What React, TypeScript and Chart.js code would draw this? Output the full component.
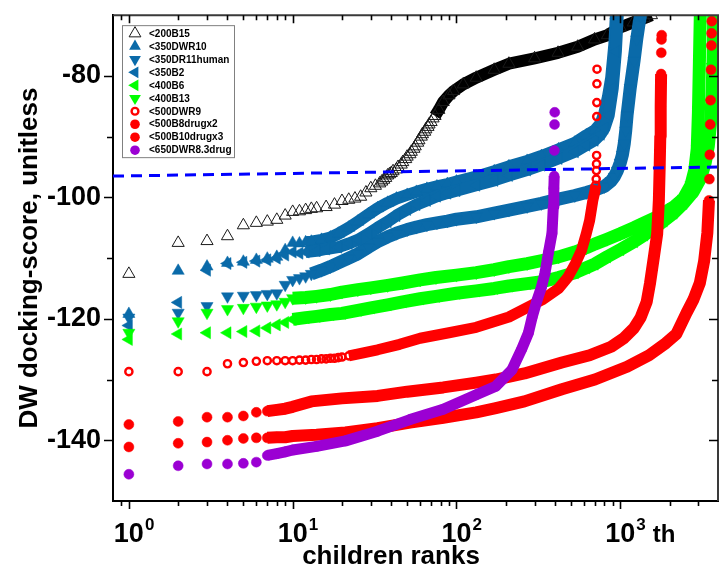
import React, { useEffect, useRef } from 'react';
import { Chart, registerables } from 'chart.js';

Chart.register(...registerables);

const FONT = '"Liberation Sans", Arial, Helvetica, sans-serif';

// ---------- data (rank, docking score) ----------
const b15Ranks = [1,2,3,4,5,6,7,8,9,10,11,12,13,14,16,18,20,22,24,26,28,30,32,34,35,36,37,38,39,40,41,43,44,46,47,49,50,52,53,55,56,58,59,61,62,64,65,67,68,70,72,74,78,83,90,96,110,132,170,209,300,417,550,697,835,1000,1200,1400,1550];
const b15Scores = [-112.6,-107.5,-107.2,-106.4,-104.6,-104.2,-104.0,-103.7,-103.0,-102.4,-102.3,-102.1,-101.9,-101.8,-101.6,-101.2,-100.6,-100.4,-100.2,-99.9,-99.2,-98.5,-98.1,-97.7,-97.4,-97.1,-96.8,-96.4,-96.2,-96.0,-95.7,-95.4,-95.0,-94.6,-94.2,-93.7,-93.3,-92.9,-92.5,-92.0,-91.6,-91.0,-90.6,-90.0,-89.6,-89.2,-88.8,-88.4,-88.0,-87.6,-87.0,-86.6,-85.6,-84.3,-83.2,-82.5,-81.4,-80.3,-79.0,-78.0,-77.1,-76.2,-75.2,-74.0,-73.3,-72.0,-71.2,-70.5,-70.0];

const dwr10Ranks = [1,2,3,4,5,6,7,8,9,10,11,12,13,15,17,19,22,25,29,33,38,43,50,57,66,76,88,100,132,170,209,270,330,420,528,620,697,760,801,840,880,920,940];
const dwr10Scores = [-119.2,-112.1,-111.4,-110.8,-110.6,-110.3,-110.1,-109.8,-108.7,-107.5,-107.6,-107.4,-107.3,-107.0,-106.6,-106.0,-105.0,-104.0,-102.8,-101.8,-100.9,-100.2,-99.6,-99.1,-98.6,-98.2,-97.8,-97.4,-96.6,-95.7,-94.9,-94.0,-93.2,-92.1,-91.0,-89.8,-89.0,-87.8,-86.0,-83.5,-80.3,-74.8,-70.0];

const dr11Ranks = [1,2,3,4,5,6,7,8,9,10,11,12,13,15,17,19,22,25,29,33,38,43,50,57,66,76,88,100,132,170,209,270,330,420,528,620,697,800,880,920,960,1000,1030,1057,1080,1100,1150,1214,1260,1300,1330];
const dr11Scores = [-119.8,-119.0,-117.9,-116.3,-116.2,-116.1,-115.9,-115.8,-114.4,-113.6,-113.3,-113.0,-112.6,-112.0,-111.4,-110.8,-110.0,-109.3,-108.2,-107.3,-106.5,-105.9,-105.3,-104.9,-104.5,-104.2,-103.9,-103.6,-103.2,-102.6,-102.1,-101.5,-101.0,-100.3,-99.7,-99.2,-98.8,-98.2,-97.3,-96.6,-95.6,-94.3,-93.0,-91.2,-89.0,-86.5,-82.0,-77.5,-74.0,-71.5,-70.0];

const b2Ranks = [1,2,3,4,5,6,7,8,9,10,11,12,14,16,19,22,25,29,33,38,43,50,57,66,76,88,100,132,170,209,270,330,420,528,620,697,760,801,850,900,940,965];
const b2Scores = [-121.1,-117.3,-112.0,-110.9,-110.7,-110.5,-110.3,-110.0,-109.5,-109.0,-109.2,-109.0,-108.8,-108.5,-108.2,-107.6,-107.0,-106.0,-105.0,-104.0,-103.0,-102.0,-101.2,-100.5,-99.8,-99.3,-98.9,-98.0,-97.2,-96.4,-95.5,-94.7,-93.6,-92.5,-91.4,-90.6,-89.6,-88.6,-86.5,-82.0,-76.0,-70.0];

const b6Ranks = [1,2,3,4,5,6,7,8,9,10,12,14,17,20,25,30,38,47,60,75,100,132,170,209,270,333,420,528,620,697,830,1000,1214,1400,1600,1840,2115,2430,2800,3100,3300,3450,3550,3620,3680,3720];
const b6Scores = [-123.4,-122.5,-122.3,-122.3,-122.1,-122.0,-121.5,-121.0,-120.6,-120.1,-119.8,-119.6,-119.3,-119.1,-118.6,-118.2,-117.7,-117.2,-116.7,-116.3,-115.8,-115.4,-115.0,-114.6,-114.2,-113.9,-113.2,-112.4,-111.6,-111.0,-109.8,-108.6,-107.3,-106.2,-105.1,-103.9,-102.6,-101.0,-99.0,-96.8,-94.3,-91.5,-88.0,-84.0,-78.0,-70.0];

const b13Ranks = [1,2,3,4,5,6,7,8,9,10,12,14,17,20,25,30,38,47,60,75,100,132,170,209,270,333,420,528,620,697,830,1000,1214,1400,1680,2115,2430,2700,2850,2950,3000,3040,3080];
const b13Scores = [-122.3,-120.4,-119.0,-118.4,-118.2,-118.0,-117.8,-117.6,-117.2,-116.6,-116.5,-116.3,-116.0,-115.6,-115.2,-114.9,-114.5,-114.1,-113.6,-113.2,-112.8,-112.4,-111.9,-111.4,-110.9,-110.4,-109.8,-109.0,-108.3,-107.7,-106.9,-106.0,-105.0,-104.2,-103.2,-101.6,-100.2,-98.0,-95.5,-92.0,-86.0,-78.0,-70.0];

const dwr9Ranks = [1,2,3,4,5,6,7,8,9,10,11,12,13,14,15,16,17,18,19,20,22,24,27,33,45,60,90,132,209,333,420,480,530,580,620,650,680,700,708,713,715,716,717,718,719,720,721];
const dwr9Scores = [-128.7,-128.7,-128.7,-127.4,-127.2,-127.0,-126.9,-126.9,-126.9,-126.9,-126.8,-126.8,-126.7,-126.7,-126.6,-126.6,-126.5,-126.5,-126.4,-126.3,-126.1,-125.9,-125.6,-125.1,-124.2,-123.2,-122.3,-121.4,-119.7,-116.9,-115.0,-113.1,-111.0,-108.7,-106.0,-103.8,-100.5,-99.0,-98.0,-97.0,-95.6,-94.5,-93.1,-86.7,-84.4,-81.3,-78.9];

const b8Ranks = [1,2,3,4,5,6,7,8,9,10,13,20,33,50,83,132,174,260,440,650,880,1050,1214,1330,1450,1520,1600,1680,1720,1740,1755,1765,1775,1780,1785,1790];
const b8Scores = [-137.4,-136.9,-136.2,-136.2,-136.0,-135.4,-135.2,-135.0,-134.8,-134.5,-133.6,-133.1,-132.7,-132.0,-131.3,-130.5,-130.0,-129.0,-127.2,-126.0,-124.6,-123.2,-121.5,-119.8,-117.2,-114.1,-110.0,-106.0,-100.5,-95.0,-90.0,-85.0,-79.7,-76.2,-74.0,-73.3];

const b10Ranks = [1,2,3,4,5,6,7,8,9,10,14,21,33,52,83,132,174,260,440,700,1100,1500,1900,2200,2540,2800,3060,3250,3400,3480,3500,3520,3540,3560,3580,3600,3610,3620];
const b10Scores = [-141.1,-140.5,-140.3,-140.0,-139.7,-139.6,-139.6,-139.5,-139.5,-139.3,-139.1,-138.7,-138.0,-137.1,-136.3,-135.4,-134.7,-133.6,-131.6,-130.0,-127.9,-126.0,-124.0,-122.5,-119.0,-116.8,-114.1,-110.5,-105.9,-100.5,-97.0,-93.0,-88.0,-84.0,-79.0,-75.0,-73.0,-71.0];

const dwr83Ranks = [1,2,3,4,5,6,7,8,9,10,14,21,33,52,83,132,174,218,250,275,290,310,330,347,365,383,390,393,395,396,397,398];
const dwr83Scores = [-145.6,-144.2,-143.9,-143.9,-143.8,-143.6,-142.5,-142.2,-141.9,-141.6,-141.0,-140.1,-138.5,-136.6,-134.9,-132.5,-131.1,-128.4,-125.0,-122.3,-119.7,-117.0,-114.8,-112.5,-109.0,-105.9,-101.6,-98.5,-96.5,-92.3,-88.0,-86.0];

const cutoffX = [0.8, 4000];
const cutoffY = [-96.5, -95.0];

const xMajorTicks = [1, 10, 100, 1000];
const xTickExponents = ['0', '1', '2', '3'];
const xTickSuffix = ['', '', '', 'th'];
const xMinorTicks = [0.9, 2, 3, 4, 5, 6, 7, 8, 9, 20, 30, 40, 50, 60, 70, 80, 90, 200, 300, 400, 500, 600, 700, 800, 900, 2000, 3000];
const yMajorTicks = [-140, -120, -100, -80];
const yMinorTicks = [-130, -110, -90];

// ---------- styles ----------
const BLUE = '#0a6aa9';
const GREEN = '#00ff00';
const RED = '#ff0000';
const PURPLE = '#9b00d3';

const SERIES = [
  { label: '<200B15', ranks: b15Ranks, scores: b15Scores, color: '#000000', shape: 'triangle', rot: 0, r: 7, open: true, pb: '#1a1a1a', pbw: 1, bs: 74, be: 1e9, bw: 12 },
  { label: '<350DWR10', ranks: dwr10Ranks, scores: dwr10Scores, color: BLUE, shape: 'triangle', rot: 0, r: 7, open: false, pb: BLUE, pbw: 0.5, bs: 12, be: 1e9, bw: 12 },
  { label: '<350DR11human', ranks: dr11Ranks, scores: dr11Scores, color: BLUE, shape: 'triangle', rot: 180, r: 7, open: false, pb: BLUE, pbw: 0.5, bs: 13, be: 1e9, bw: 13 },
  { label: '<350B2', ranks: b2Ranks, scores: b2Scores, color: BLUE, shape: 'triangle', rot: 270, r: 7, open: false, pb: BLUE, pbw: 0.5, bs: 12, be: 1e9, bw: 12 },
  { label: '<400B6', ranks: b6Ranks, scores: b6Scores, color: GREEN, shape: 'triangle', rot: 270, r: 7, open: false, pb: GREEN, pbw: 0.5, bs: 10, be: 1e9, bw: 13 },
  { label: '<400B13', ranks: b13Ranks, scores: b13Scores, color: GREEN, shape: 'triangle', rot: 180, r: 7, open: false, pb: GREEN, pbw: 0.5, bs: 10, be: 1e9, bw: 13 },
  { label: '<500DWR9', ranks: dwr9Ranks, scores: dwr9Scores, color: RED, shape: 'circle', rot: 0, r: 3.6, open: true, pb: RED, pbw: 2.4, bs: 22, be: 708, bw: 11 },
  { label: '<500B8drugx2', ranks: b8Ranks, scores: b8Scores, color: RED, shape: 'circle', rot: 0, r: 5, open: false, pb: RED, pbw: 0.5, bs: 7, be: 1775, bw: 12 },
  { label: '<500B10drugx3', ranks: b10Ranks, scores: b10Scores, color: RED, shape: 'circle', rot: 0, r: 5, open: false, pb: RED, pbw: 0.5, bs: 7, be: 3480, bw: 12 },
  { label: '<650DWR8.3drug', ranks: dwr83Ranks, scores: dwr83Scores, color: PURPLE, shape: 'circle', rot: 0, r: 5, open: false, pb: PURPLE, pbw: 0.5, bs: 7, be: 395, bw: 11 },
];

function drawMarker(ctx: CanvasRenderingContext2D, s: any, x: number, y: number) {
  ctx.beginPath();
  if (s.shape === 'circle') {
    const r = s.open ? 3.4 : 4.8;
    ctx.arc(x, y, r, 0, Math.PI * 2);
  } else {
    const r = 6.8;
    let rad = (s.rot * Math.PI) / 180;
    for (let k = 0; k < 3; k++) {
      const px = x + Math.sin(rad) * r;
      const py = y - Math.cos(rad) * r;
      if (k === 0) ctx.moveTo(px, py); else ctx.lineTo(px, py);
      rad += (2 * Math.PI) / 3;
    }
    ctx.closePath();
  }
  if (s.open) {
    ctx.lineWidth = s.shape === 'circle' ? 2.4 : 1;
    ctx.strokeStyle = s.shape === 'circle' ? s.color : '#1a1a1a';
    ctx.stroke();
  } else {
    ctx.fillStyle = s.color;
    ctx.fill();
  }
}

const decorPlugin = {
  id: 'decor',
  afterDraw(chart: any) {
    const { ctx, chartArea } = chart;
    const { left, right, top, bottom } = chartArea;
    const xs = chart.scales.x;
    const ys = chart.scales.y;
    ctx.save();
    // top and right frame
    ctx.strokeStyle = '#3a3a3a';
    ctx.lineWidth = 2;
    ctx.beginPath();
    ctx.moveTo(left, top);
    ctx.lineTo(right, top);
    ctx.lineTo(right, bottom);
    ctx.stroke();

    // tick marks
    ctx.strokeStyle = '#000';
    ctx.lineWidth = 1.6;
    ctx.beginPath();
    const xt = (v: number, len: number) => {
      const px = Math.round(xs.getPixelForValue(v)) + 0.5;
      ctx.moveTo(px, bottom); ctx.lineTo(px, bottom + len);
      ctx.moveTo(px, top); ctx.lineTo(px, top + len);
    };
    xMajorTicks.forEach((v) => xt(v, 8));
    xMinorTicks.forEach((v) => xt(v, 5));
    const yt = (v: number, len: number) => {
      const py = Math.round(ys.getPixelForValue(v)) + 0.5;
      ctx.moveTo(left, py); ctx.lineTo(left - len, py);
      ctx.moveTo(right, py); ctx.lineTo(right - len, py);
    };
    yMajorTicks.forEach((v) => yt(v, 9));
    yMinorTicks.forEach((v) => yt(v, 6));
    ctx.stroke();

    // x tick labels 10^n
    ctx.fillStyle = '#000';
    ctx.textBaseline = 'alphabetic';
    xMajorTicks.forEach((v, i) => {
      const px = xs.getPixelForValue(v);
      ctx.font = `bold 27px ${FONT}`;
      ctx.textAlign = 'center';
      ctx.fillText('10', px, 542);
      const w = ctx.measureText('10').width;
      ctx.font = `bold 17px ${FONT}`;
      ctx.textAlign = 'left';
      const sx = px + w / 2 + 1;
      ctx.fillText(xTickExponents[i], sx, 530);
      const sw = ctx.measureText(xTickExponents[i]).width;
      if (xTickSuffix[i]) {
        ctx.font = `bold 24px ${FONT}`;
        ctx.fillText(xTickSuffix[i], sx + sw + 7, 542);
      }
    });

    // x axis title
    ctx.font = `bold 26px ${FONT}`;
    ctx.textAlign = 'center';
    ctx.textBaseline = 'middle';
    ctx.fillText('children ranks', left + 278, 557);

    // legend box
    const lx = left + 9, ly = top + 10, lw = 112, lh = 132;
    ctx.fillStyle = '#fff';
    ctx.fillRect(lx, ly, lw, lh);
    ctx.strokeStyle = '#808080';
    ctx.lineWidth = 1;
    ctx.strokeRect(lx + 0.5, ly + 0.5, lw, lh);
    SERIES.forEach((s, i) => {
      const cy = ly + 8.3 + i * 12.97;
      drawMarker(ctx, s, lx + 13, cy);
      ctx.fillStyle = '#000';
      ctx.font = `bold 10px ${FONT}`;
      ctx.textAlign = 'left';
      ctx.textBaseline = 'middle';
      ctx.fillText(s.label, lx + 27, cy + 0.5);
    });
    ctx.restore();
  },
};

export default function App() {
  const ref = useRef<HTMLCanvasElement>(null);
  useEffect(() => {
    const datasets: any[] = [
      {
        label: 'cutoff',
        data: cutoffX.map((x, i) => ({ x, y: cutoffY[i] })),
        showLine: true,
        borderColor: '#0000ff',
        borderWidth: 3,
        borderDash: [11, 7],
        pointRadius: 0,
        clip: 0,
        order: 0,
      },
    ];
    SERIES.forEach((s, i) => {
      datasets.push({
        label: s.label,
        data: s.ranks.map((x, j) => ({ x, y: s.scores[j] })),
        showLine: true,
        borderColor: s.color,
        borderWidth: s.bw,
        borderJoinStyle: 'round',
        borderCapStyle: 'butt',
        segment: {
          borderColor: (c: any) =>
            c.p0.parsed.x >= s.bs && c.p1.parsed.x <= s.be ? s.color : 'rgba(0,0,0,0)',
        },
        pointStyle: s.shape,
        pointRotation: s.rot,
        pointRadius: s.r,
        pointBackgroundColor: s.open ? 'rgba(0,0,0,0)' : s.color,
        pointBorderColor: s.pb,
        pointBorderWidth: s.pbw,
        clip: 0,
        order: 20 - i,
      });
    });

    const chart = new Chart(ref.current as HTMLCanvasElement, {
      type: 'scatter',
      data: { datasets },
      options: {
        animation: false,
        responsive: true,
        maintainAspectRatio: false,
        events: [],
        layout: { padding: { top: 15, right: 1, left: 0, bottom: 0 } },
        plugins: { legend: { display: false }, tooltip: { enabled: false } },
        scales: {
          x: {
            type: 'logarithmic',
            min: 0.8,
            max: 3950,
            afterBuildTicks: (sc: any) => {
              sc.ticks = xMajorTicks.map((value) => ({ value }));
            },
            afterFit: (sc: any) => {
              sc.height = 70;
            },
            ticks: { display: false },
            grid: { display: false },
            border: { display: true, color: '#000', width: 2 },
            title: { display: false },
          },
          y: {
            type: 'linear',
            min: -150,
            max: -70,
            afterBuildTicks: (sc: any) => {
              sc.ticks = yMajorTicks.map((value) => ({ value }));
            },
            afterFit: (sc: any) => {
              sc.width = 113;
            },
            ticks: {
              color: '#000',
              padding: 3,
              font: { family: FONT, weight: 'bold', size: 27, lineHeight: 0.9 },
              callback: (v: any) => String(v),
            },
            grid: {
              display: true,
              drawOnChartArea: false,
              color: 'rgba(0,0,0,0)',
              tickLength: 9,
            },
            border: { display: true, color: '#000', width: 2 },
            title: {
              display: true,
              text: 'DW docking-score, unitless',
              color: '#000',
              font: { family: FONT, weight: 'bold', size: 26, lineHeight: 1 },
              padding: { top: 17, bottom: 0 },
            },
          },
        },
      } as any,
      plugins: [decorPlugin as any],
    });
    return () => chart.destroy();
  }, []);

  return (
    <div style={{ position: 'fixed', left: 0, top: 0, width: 726, height: 571, background: '#fff' }}>
      <canvas ref={ref} />
    </div>
  );
}
